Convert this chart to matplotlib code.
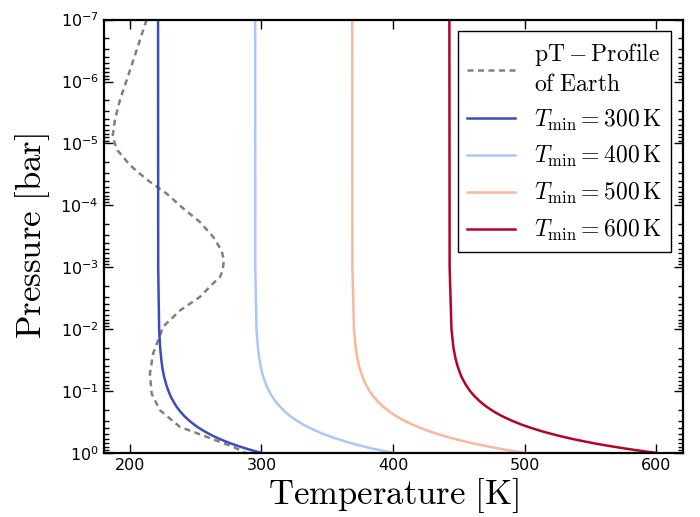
import numpy as np
import matplotlib
matplotlib.use("Agg")
import matplotlib.pyplot as plt
from matplotlib import cm
from matplotlib.ticker import LogLocator, NullFormatter

# Earth reference profile (pressure in bar, temperature in K)
earth_p = [1e-7, 2.14e-7, 4.57e-7, 9.55e-7, 2.0e-6, 4.17e-6, 7.94e-6, 1.29e-5,
           1.66e-5, 2.24e-5, 3.09e-5, 4.17e-5, 6.46e-5, 1.12e-4, 1.86e-4,
           3.24e-4, 5.37e-4, 7.76e-4, 1.12e-3, 1.45e-3, 1.82e-3, 3.02e-3,
           5.01e-3, 9.12e-3, 0.0151, 0.0245, 0.0525, 0.110, 0.204, 0.380,
           0.550, 0.80, 1.0]
earth_T = [212.7, 207.6, 202.5, 197.5, 192.4, 188.6, 186.8, 190.5,
           195.0, 200.0, 207.6, 215.2, 227.9, 240.5, 253.2,
           263.3, 269.7, 271.4, 270.5, 268.4, 263.3, 253.2,
           238.0, 225.3, 221.5, 217.7, 215.2, 216.5, 222.8, 238.0,
           258.3, 278.5, 288.0]

# model profiles, one temperature list per T_min
p_grid = [1e-7, 1e-3, 0.01, 0.02, 0.03, 0.04, 0.05, 0.06, 0.08, 0.10, 0.12,
          0.15, 0.18, 0.22, 0.26, 0.30, 0.35, 0.40, 0.45, 0.50, 0.55, 0.60,
          0.65, 0.70, 0.75, 0.80, 0.85, 0.90, 0.95, 1.00]
T_300 = [221.4, 221.5, 222.2, 223.0, 223.8, 224.5, 225.3, 226.1, 227.7, 229.3,
         230.8, 233.2, 235.5, 238.7, 241.8, 245.0, 248.9, 252.8, 256.8, 260.7,
         264.6, 268.6, 272.5, 276.4, 280.4, 284.3, 288.2, 292.1, 296.1, 300.0]
T_400 = [295.2, 295.3, 296.2, 297.3, 298.3, 299.4, 300.4, 301.5, 303.6, 305.7,
         307.8, 310.9, 314.1, 318.3, 322.4, 326.6, 331.9, 337.1, 342.4, 347.6,
         352.8, 358.1, 363.3, 368.6, 373.8, 379.0, 384.3, 389.5, 394.8, 400.0]
T_500 = [369.0, 369.1, 370.3, 371.6, 372.9, 374.2, 375.6, 376.9, 379.5, 382.1,
         384.7, 388.7, 392.6, 397.8, 403.1, 408.3, 414.9, 421.4, 428.0, 434.5,
         441.1, 447.6, 454.2, 460.7, 467.3, 473.8, 480.4, 486.9, 493.5, 500.0]
T_600 = [442.8, 443.0, 444.4, 445.9, 447.5, 449.1, 450.7, 452.2, 455.4, 458.5,
         461.7, 466.4, 471.1, 477.4, 483.7, 490.0, 497.8, 505.7, 513.5, 521.4,
         529.3, 537.1, 545.0, 552.8, 560.7, 568.6, 576.4, 584.3, 592.1, 600.0]
T_min = [300, 400, 500, 600]
profiles = [T_300, T_400, T_500, T_600]

fig, ax = plt.subplots(figsize=(7, 5.17), dpi=100)
fig.subplots_adjust(left=0.148, right=0.975, bottom=0.124, top=0.962)

ax.plot(earth_T, earth_p, ls="--", dashes=(2.4, 1.8), color="gray", lw=1.8,
        label=r"$\mathrm{pT-Profile}$" + "\n" + r"$\mathrm{of\ Earth}$")

colors = cm.coolwarm(np.linspace(0, 1, len(T_min)))
for t, T, c in zip(T_min, profiles, colors):
    ax.plot(T, p_grid, color=c, lw=1.8,
            label=r"$T_\mathrm{min} = %d\,\mathrm{K}$" % t)

ax.set_yscale("log")
ax.set_ylim(1, 1e-7)
ax.set_xlim(180, 620)
ax.set_xticks([200, 300, 400, 500, 600])
ax.yaxis.set_major_locator(LogLocator(base=10, numticks=20))
ax.yaxis.set_minor_locator(LogLocator(base=10, subs=np.arange(2, 10), numticks=20))
ax.yaxis.set_minor_formatter(NullFormatter())

ax.tick_params(which="both", direction="in", top=True, right=True, labelsize=11.5)
ax.tick_params(which="major", length=6.5, width=1)
ax.tick_params(which="minor", length=3.5, width=1)
for s in ax.spines.values():
    s.set_linewidth(1.6)

ax.set_xlabel(r"$\mathrm{Temperature\ [K]}$", fontsize=25, math_fontfamily="cm",
              labelpad=2)
ax.set_ylabel(r"$\mathrm{Pressure\ [bar]}$", fontsize=25, math_fontfamily="cm",
              labelpad=6)

leg = ax.legend(loc="upper right", fontsize=17, fancybox=False, framealpha=1,
                edgecolor="black")
for txt in leg.get_texts():
    txt.set_math_fontfamily("cm")

fig.savefig("out.png")
